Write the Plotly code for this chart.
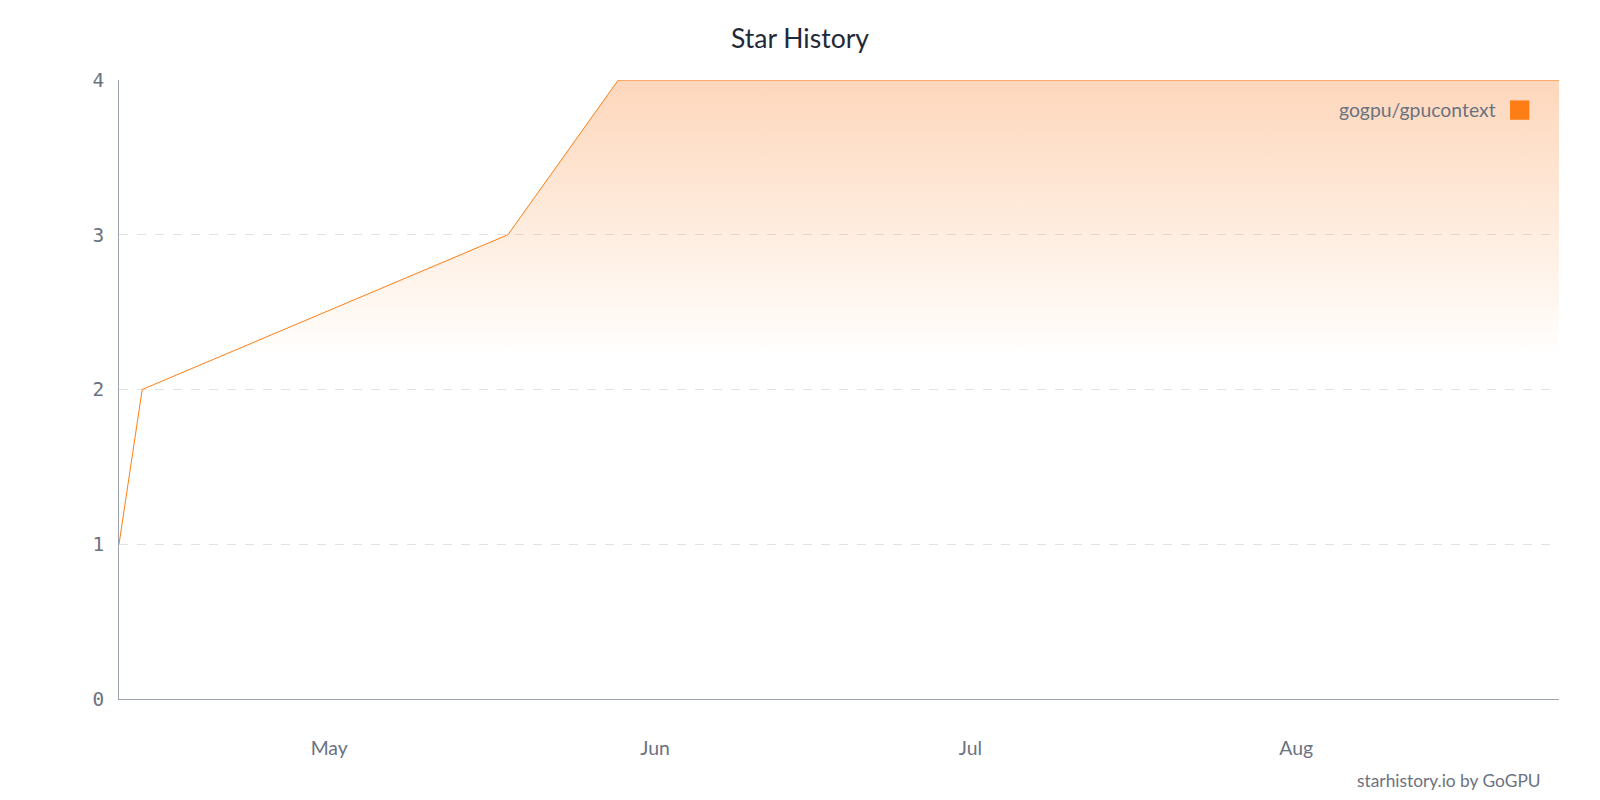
import plotly.graph_objects as go

dates = ["2025-04-11", "2025-04-13 05:00", "2025-05-18", "2025-05-28 12:00", "2025-08-26"]
stars = [1, 2, 3, 4, 4]
tick_vals = ["2025-05-01", "2025-06-01", "2025-07-01", "2025-08-01"]
tick_text = ["May", "Jun", "Jul", "Aug"]
series_name = "gogpu/gpucontext"
color = "#fd7e14"

S = 1 / 0.98
W, H = 1625, 808
L = 117 * S - 8
T = 78 * S - 8
PW = 1411 * S
PH = 607 * S

fig = go.Figure()
fig.add_trace(go.Scatter(
    x=dates, y=stars, mode="lines", line=dict(color=color, width=1),
    fill="tozeroy",
    fillgradient=dict(type="vertical", start=0, stop=4,
                      colorscale=[[0, "rgba(253,126,20,0)"], [0.55, "rgba(253,126,20,0)"],
                                  [1, "rgba(250,120,30,0.3)"]]),
    showlegend=False, hoverinfo="skip"))

fig.update_layout(
    width=W, height=H, autosize=False,
    plot_bgcolor="white", paper_bgcolor="white",
    margin=dict(l=L, r=W - L - PW, t=T, b=H - T - PH),
    title=dict(text="Star History", x=(784 * S - 8) / W, xanchor="center",
               y=1 - (38 * S - 8) / H, yanchor="middle",
               font=dict(family="Lato", size=26 * S, color="#1f2937")),
    xaxis=dict(range=["2025-04-11", "2025-08-26"], tickvals=tick_vals, ticktext=tick_text,
               showgrid=False, zeroline=False, showline=True, linecolor="#9ca3af",
               tickfont=dict(family="Lato", size=19 * S, color="#6b7280"), ticks="",
               ticklabelstandoff=32),
    yaxis=dict(range=[0, 4], dtick=1, showgrid=True, gridcolor="#e0e2e6", griddash="dash",
               zeroline=False, showline=True, linecolor="#9ca3af",
               tickfont=dict(family="DejaVu Sans Mono", size=19 * S, color="#6b7280"),
               ticks="", ticklabelstandoff=10),
    showlegend=False,
)
fig.add_annotation(text=series_name, xref="paper", yref="paper", x=(1468-117)/1411,
                   y=(685-107)/607, xanchor="right", yanchor="middle", showarrow=False,
                   font=dict(family="Lato", size=19 * S, color="#6b7280"))
fig.add_shape(type="rect", xref="paper", yref="paper",
              x0=(1480-117)/1411, x1=(1499-117)/1411,
              y0=(685-117)/607, y1=(685-98)/607,
              fillcolor=color, line=dict(width=0))
fig.add_annotation(text="starhistory.io by GoGPU", xref="paper", yref="paper",
                   x=(1512-117)/1411, y=-(80/607), xanchor="right", yanchor="middle",
                   showarrow=False, font=dict(family="Lato", size=17 * S, color="#6b7280"))
fig.write_html("out.html", config={"displayModeBar": False})
